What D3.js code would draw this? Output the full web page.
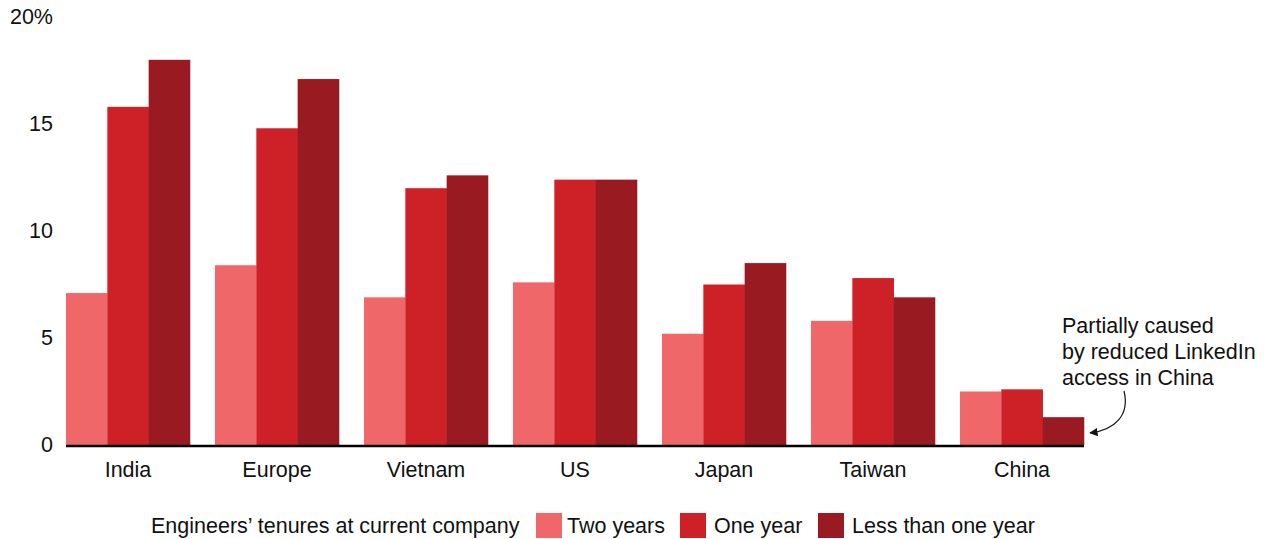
<!DOCTYPE html>
<html>
<head>
<meta charset="utf-8">
<script src="https://cdn.jsdelivr.net/npm/d3@7"></script>
<style>
  html, body { margin: 0; padding: 0; background: #fff; }
  svg { display: block; font-family: "Liberation Sans", Arial, Helvetica, sans-serif; }
</style>
</head>
<body>
<svg id="chart" width="1267" height="539"></svg>
<script>
const categories = ["India", "Europe", "Vietnam", "US", "Japan", "Taiwan", "China"];
const seriesNames = ["Two years", "One year", "Less than one year"];
const twoYears = [7.1, 8.4, 6.9, 7.6, 5.2, 5.8, 2.5];
const oneYear = [15.8, 14.8, 12.0, 12.4, 7.5, 7.8, 2.6];
const lessThanOneYear = [18.0, 17.1, 12.6, 12.4, 8.5, 6.9, 1.3];
const yTicks = [0, 5, 10, 15, 20];
const yTickLabels = ["0", "5", "10", "15", "20%"];
const colors = ["#f0676a", "#ce2027", "#991a21"];
const legendTitle = "Engineers\u2019 tenures at current company";
const noteLines = ["Partially caused", "by reduced LinkedIn", "access in China"];

const series = [twoYears, oneYear, lessThanOneYear];
const svg = d3.select("#chart");
const FS = 21.5;

const y = d3.scaleLinear().domain([0, 20]).range([445, 17]);
const x0 = d3.scaleBand().domain(categories).range([53.5, 1096.5]).paddingInner(0.168).paddingOuter(0.084);
const x1 = d3.scaleBand().domain(d3.range(series.length)).range([0, x0.bandwidth()]);

// bars
const g = svg.append("g");
categories.forEach((c, i) => {
  series.forEach((s, j) => {
    g.append("rect")
      .attr("x", x0(c) + x1(j))
      .attr("y", y(s[i]))
      .attr("width", x1.bandwidth() + 0.3)
      .attr("height", y(0) - y(s[i]))
      .attr("fill", colors[j]);
  });
});

// baseline
svg.append("line")
  .attr("x1", x0.range()[0] + x0.step() * x0.paddingOuter())
  .attr("x2", x0(categories[categories.length - 1]) + x0.bandwidth())
  .attr("y1", y(0) + 1).attr("y2", y(0) + 1)
  .attr("stroke", "#000").attr("stroke-width", 2.5);

// y axis labels
const yAxis = d3.axisLeft(y).tickValues(yTicks).tickSize(0).tickPadding(0)
  .tickFormat((d, i) => yTickLabels[i]);
const ya = svg.append("g").attr("transform", "translate(53,-1)").call(yAxis);
ya.select(".domain").remove();
ya.selectAll("text").attr("font-size", FS).attr("fill", "#111").attr("font-family", null).attr("dy", "0.35em");

// x axis labels
const xAxis = d3.axisBottom(x0).tickSize(0).tickPadding(0);
const xa = svg.append("g").attr("transform", `translate(0,${y(0) + 24})`).call(xAxis);
xa.select(".domain").remove();
xa.selectAll("text").attr("font-size", FS).attr("fill", "#111").attr("font-family", null).attr("dy", "0.35em");

// legend
const leg = svg.append("g");
leg.append("text").attr("x", 151).attr("y", 525).attr("dy", "0.35em")
  .attr("font-size", FS).attr("fill", "#111").text(legendTitle);
const swX = [536, 680, 818];
const txX = [567, 714, 852];
seriesNames.forEach((n, j) => {
  leg.append("rect").attr("x", swX[j]).attr("y", 513).attr("width", 26).attr("height", 25).attr("fill", colors[j]);
  leg.append("text").attr("x", txX[j]).attr("y", 525).attr("dy", "0.35em")
    .attr("font-size", FS).attr("fill", "#111").text(n);
});

// annotation
noteLines.forEach((t, i) => {
  svg.append("text").attr("x", 1062).attr("y", 325 + i * 26).attr("dy", "0.35em")
    .attr("font-size", FS).attr("fill", "#111").text(t);
});
svg.append("defs").append("marker")
  .attr("id", "arr").attr("viewBox", "0 0 10 10").attr("refX", 9).attr("refY", 5)
  .attr("markerWidth", 7).attr("markerHeight", 7).attr("orient", "auto")
  .append("path").attr("d", "M0,0 L10,5 L0,10 z").attr("fill", "#111");
svg.append("path")
  .attr("d", "M1124,391 C1130,415 1115,430 1090,433")
  .attr("fill", "none").attr("stroke", "#111").attr("stroke-width", 1.2)
  .attr("marker-end", "url(#arr)");
</script>
</body>
</html>
